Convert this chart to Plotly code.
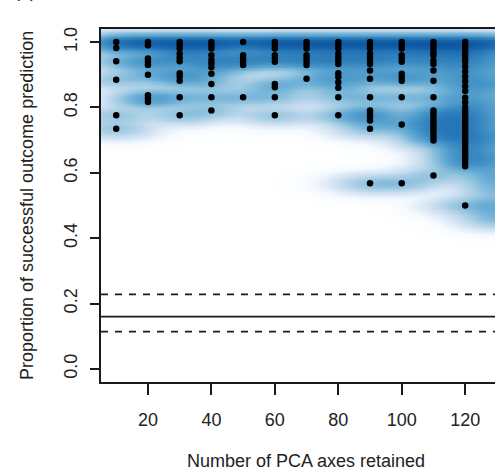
import numpy as np
import plotly.graph_objects as go

# ---------------- data ----------------
axes_retained = [10, 20, 30, 40, 50, 60, 70, 80, 90, 100, 110, 120, 130]

col_10 = [1.0, 0.982, 0.941, 0.885, 0.776, 0.735]
col_20 = [1.0, 0.99, 0.95, 0.94, 0.93, 0.90, 0.837, 0.827, 0.817]
col_30 = [1.0, 0.99, 0.98, 0.964, 0.952, 0.941, 0.905, 0.895, 0.882, 0.831, 0.776]
col_40 = [1.0, 0.99, 0.98, 0.96, 0.946, 0.935, 0.923, 0.903, 0.872, 0.831, 0.791]
col_50 = [1.0, 0.96, 0.95, 0.94, 0.93, 0.831]
col_60 = [1.0, 0.99, 0.98, 0.96, 0.95, 0.94, 0.872, 0.862, 0.831, 0.776]
col_70 = [1.0, 0.99, 0.98, 0.96, 0.95, 0.94, 0.93, 0.888]
col_80 = [1.0, 0.99, 0.98, 0.964, 0.953, 0.943, 0.933, 0.905, 0.893, 0.877,
          0.860, 0.831, 0.776]
col_90 = [1.0, 0.99, 0.98, 0.964, 0.953, 0.943, 0.933, 0.913, 0.888, 0.831,
          0.791, 0.781, 0.771, 0.760, 0.735, 0.568]
col_100 = [1.0, 0.99, 0.98, 0.96, 0.95, 0.94, 0.903, 0.893, 0.882, 0.831,
           0.748, 0.568]
col_110 = [1.0, 0.99, 0.98, 0.969, 0.959, 0.943, 0.933, 0.913, 0.882, 0.831,
           0.791, 0.781, 0.771, 0.760, 0.750, 0.740, 0.730, 0.720, 0.709,
           0.699, 0.592]
col_120 = [1.0, 0.99, 0.98, 0.97, 0.96, 0.95, 0.94, 0.925, 0.91, 0.895, 0.88,
           0.865, 0.85, 0.83, 0.815, 0.80, 0.79, 0.78, 0.77, 0.76, 0.75, 0.74,
           0.73, 0.72, 0.71, 0.70, 0.69, 0.68, 0.67, 0.66, 0.65, 0.64, 0.63,
           0.62, 0.50]
col_130 = [1.0, 0.985, 0.97, 0.95, 0.933, 0.91, 0.882, 0.872, 0.85, 0.821,
           0.80, 0.771, 0.75, 0.72, 0.709, 0.69, 0.659, 0.64, 0.62, 0.597,
           0.587, 0.567, 0.547, 0.516, 0.496, 0.475, 0.455]

columns = [col_10, col_20, col_30, col_40, col_50, col_60, col_70, col_80,
           col_90, col_100, col_110, col_120, col_130]

# overlapping (hidden) runs stacked on the perfect-prediction dot of each
# column, estimated from the depth of the shading along 1.0
perfect_runs = [3, 3, 3, 3, 3, 3, 3, 3, 3, 3, 3, 3, 3]

null_mean = 0.16
null_upper = 0.228
null_lower = 0.114

y_ticks = [0.0, 0.2, 0.4, 0.6, 0.8, 1.0]
y_tick_labels = ["0.0", "0.2", "0.4", "0.6", "0.8", "1.0"]
x_ticks = [20, 40, 60, 80, 100, 120]
x_tick_labels = ["20", "40", "60", "80", "100", "120"]

# ------------- points -------------
px_, py_, wt_ = [], [], []
for xv, vals, nrep in zip(axes_retained, columns, perfect_runs):
    for v in vals:
        px_.append(xv)
        py_.append(v)
        wt_.append(1 + nrep if v >= 0.999 else 1)
px_ = np.array(px_, float)
py_ = np.array(py_, float)
wt_ = np.array(wt_, float)

# ------------- smoothed density (smoothScatter-like) -------------
gx = np.linspace(0, 140, 141)
gy = np.linspace(-0.04, 1.04, 217)
sx, sy = 6.5, 0.016
GX, GY = np.meshgrid(gx, gy)
dens = np.zeros_like(GX)
for a, b, w in zip(px_, py_, wt_):
    dens += w * np.exp(-0.5 * ((GX - a) / sx) ** 2 - 0.5 * ((GY - b) / sy) ** 2)
dens = dens / dens.max()
dens = dens ** 0.3

blues = ["#FFFFFF", "#F7FBFF", "#DEEBF7", "#C6DBEF", "#9ECAE1", "#6BAED6",
         "#4292C6", "#2171B5", "#08519C", "#08306B"]
cscale = [[i / (len(blues) - 1), c] for i, c in enumerate(blues)]

fig = go.Figure()
fig.add_trace(go.Heatmap(x=gx, y=gy, z=dens, colorscale=cscale, zmin=0, zmax=1.15,
                         showscale=False, zsmooth="best", hoverinfo="skip"))
fig.add_trace(go.Scatter(x=px_, y=py_, mode="markers", cliponaxis=False,
                         marker=dict(color="black", size=6.5),
                         hoverinfo="skip", showlegend=False))

LINE = "#1a1a1a"
for yv, dash in [(null_mean, "solid"), (null_upper, "7px,7px"), (null_lower, "7px,7px")]:
    fig.add_shape(type="line", xref="paper", x0=0, x1=1, yref="y", y0=yv, y1=yv,
                  line=dict(color=LINE, width=1.7, dash=dash))

FONT = "Liberation Sans, Arial, Helvetica, sans-serif"
fig.update_layout(
    width=495, height=473,
    margin=dict(l=101, r=0, t=29, b=91),
    paper_bgcolor="white", plot_bgcolor="white",
    showlegend=False,
    font=dict(family=FONT, size=18, color="#222"),
    xaxis=dict(range=[5.2, 129.4], tickvals=x_ticks, ticktext=x_tick_labels,
               ticks="outside", ticklen=11, tickwidth=1.8, tickcolor=LINE,
               showline=True, linecolor=LINE, linewidth=1.8, mirror=True,
               showgrid=False, zeroline=False, ticklabelstandoff=9),
    yaxis=dict(range=[-0.04, 1.04], tickvals=y_ticks, ticktext=y_tick_labels,
               tickangle=-90, ticks="outside", ticklen=9, tickwidth=1.8,
               tickcolor=LINE, showline=True, linecolor=LINE, linewidth=1.8,
               showgrid=False, zeroline=False, ticklabelstandoff=6),
)

fig.add_annotation(text="Number of PCA axes retained", xref="paper", yref="paper",
                   x=(306 - 101) / 394, y=(382 - 461) / 353, showarrow=False,
                   xanchor="center", yanchor="middle", font=dict(size=18))
fig.add_annotation(text="Proportion of successful outcome prediction",
                   xref="paper", yref="paper", x=(27 - 101) / 394,
                   y=(382 - 206) / 353, textangle=-90, showarrow=False,
                   xanchor="center", yanchor="middle", font=dict(size=18))
fig.add_annotation(text="(a)", xref="paper", yref="paper", x=(25 - 101) / 394,
                   y=(382 - 3) / 353, showarrow=False, xanchor="center",
                   yanchor="bottom", font=dict(size=18))

fig.write_html("out.html")
